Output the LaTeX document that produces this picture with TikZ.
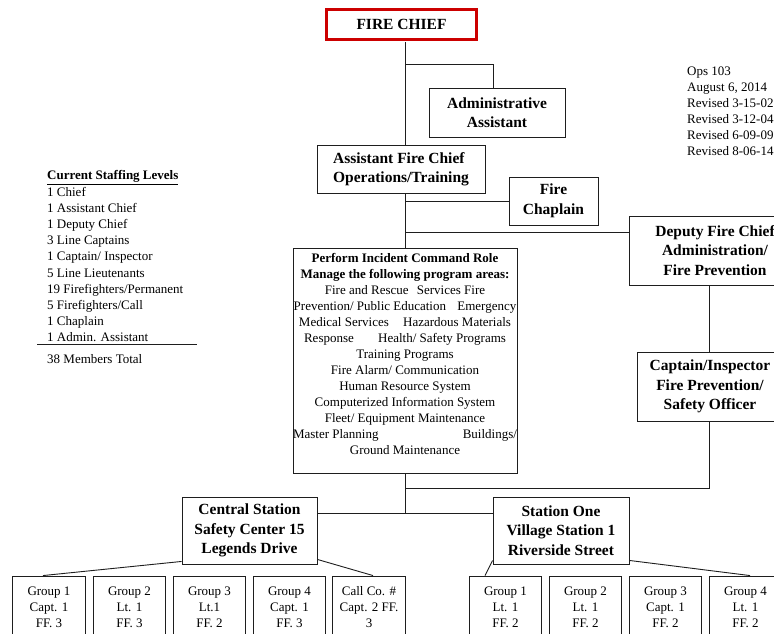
\documentclass[tikz,border=0pt]{standalone}
\usepackage{fontspec}
\setmainfont{Liberation Serif}
\definecolor{chiefred}{RGB}{204,0,0}
\definecolor{ink}{RGB}{30,30,30}
\tikzset{
 ln/.style={line width=0.9pt, draw=ink},
 box/.style={draw=ink, line width=0.9pt, fill=white, align=center, inner sep=0pt,
   font=\fontsize{15.5}{19.5}\selectfont\bfseries},
 grp/.style={draw=ink, line width=0.9pt, fill=white, align=center, inner sep=0pt,
   minimum width=72.5pt, minimum height=62pt, font=\fontsize{13}{16}\selectfont},
 txt/.style={inner sep=0pt, align=left, font=\fontsize{13}{16.1}\selectfont},
}
\begin{document}
\begin{tikzpicture}[x=1pt,y=-1pt]
\useasboundingbox (0,0) rectangle (774,633);
\clip (0,0) rectangle (774,633);
\fill[white] (0,0) rectangle (774,633);

% boxes
\node[box, draw=chiefred, line width=2.6pt, minimum width=150pt, minimum height=30pt] (chief) at (401.5,24.5) {FIRE CHIEF};
\node[box, minimum width=136pt, minimum height=49pt] (admin) at (497,112.5) {Administrative\\Assistant};
\node[box, align=left, minimum width=168pt, minimum height=48pt] (afc) at (401,169) {Assistant Fire Chief\\Operations/Training};
\node[box, minimum width=89pt, minimum height=48pt] (chap) at (553.5,201) {Fire\\Chaplain};
\node[box, minimum width=172pt, minimum height=69pt] (deputy) at (715,250.5) {Deputy Fire Chief\\Administration/\\Fire Prevention};
\node[box, minimum width=146pt, minimum height=69pt] (capt) at (710,386.5) {Captain/Inspector\\Fire Prevention/\\Safety Officer};
\node[box, minimum width=224pt, minimum height=225pt] (perform) at (405,360.5) {};
\node[anchor=north, inner sep=0pt, align=center, font=\fontsize{13}{16}\selectfont] (perftext) at (405,253.6) {%
\textbf{Perform Incident Command Role}\\
\textbf{Manage the following program areas:}\\
Fire and Rescue\hspace{5pt} Services Fire\\
Prevention/ Public Education\hspace{8pt} Emergency\\
Medical Services\hspace{11pt} Hazardous Materials\\
Response\hspace{21pt} Health/ Safety Programs\\
Training Programs\\
Fire Alarm/ Communication\\
Human Resource System\\
Computerized Information System\\
Fleet/ Equipment Maintenance\\
\makebox[224pt]{Master Planning\hfill Buildings/}\\
Ground Maintenance};
\node[box, minimum width=135pt, minimum height=67pt] (central) at (249.5,530.5) {Central Station\\Safety Center 15\\Legends Drive};
\node[box, minimum width=136pt, minimum height=67pt] (station) at (561,530.5) {Station One\\Village Station 1\\Riverside Street};

\node[grp] (cg1) at (49,607) {Group 1\\Capt. 1\\FF. 3};
\node[grp] (cg2) at (129.5,607) {Group 2\\Lt. 1\\FF. 3};
\node[grp] (cg3) at (209.5,607) {Group 3\\Lt.1\\FF. 2};
\node[grp] (cg4) at (289.5,607) {Group 4\\Capt. 1\\FF. 3};
\node[grp] (call) at (369,607) {Call Co. \#\\Capt. 2 FF.\\3};
\node[grp] (sg1) at (505.5,607) {Group 1\\Lt. 1\\FF. 2};
\node[grp] (sg2) at (585.5,607) {Group 2\\Lt. 1\\FF. 2};
\node[grp] (sg3) at (665.5,607) {Group 3\\Capt. 1\\FF. 2};
\node[grp] (sg4) at (745.5,607) {Group 4\\Lt. 1\\FF. 2};

% connectors
\coordinate (sp) at (405,0);
\coordinate (j1) at (405,64);
\coordinate (a1) at (493,64);
\coordinate (j2) at (405,201);
\coordinate (j3) at (405,232);
\coordinate (dx) at (709,0);
\coordinate (j4) at (405,488);
\coordinate (j5) at (405,513);

\draw[ln] ([yshift=-1.3pt]chief.south -| sp) -- (afc.north -| sp);
\draw[ln] (j1) -- (a1) -- (a1 |- admin.north);
\draw[ln] (afc.south -| sp) -- (perform.north -| sp);
\draw[ln] (j2) -- (j2 -| chap.west);
\draw[ln] (j3) -- (j3 -| deputy.west);
\draw[ln] (deputy.south -| dx) -- (capt.north -| dx);
\draw[ln] (capt.south -| dx) |- (j4);
\draw[ln] (perform.south -| sp) -- (j5);
\draw[ln] (j5 -| central.east) -- (j5 -| station.west);
\draw[ln] ([yshift=3pt]central.south west) -- ([xshift=-6pt]cg1.north);
\draw[ln] ([yshift=5pt]central.south east) -- ([xshift=4pt]call.north);
\draw[ln] ([yshift=4pt]station.south west) -- ([xshift=-20.5pt]sg1.north);
\draw[ln] ([yshift=4pt]station.south east) -- ([xshift=4.5pt]sg4.north);

% staffing levels
\node[txt, anchor=north west, font=\fontsize{13}{16}\selectfont\bfseries] (stafft) at (47,170.4) {\underline{Current Staffing Levels}};
\node[txt, anchor=north west] (staffl) at (47,187.2) {1 Chief\\1 Assistant Chief\\1 Deputy Chief\\3 Line Captains\\1 Captain/ Inspector\\5 Line Lieutenants\\19 Firefighters/Permanent\\5 Firefighters/Call\\1 Chaplain\\1 Admin. Assistant};
\draw[ln] (37,344) -- (197,344);
\node[txt, anchor=north west] (total) at (47,354.5) {38 Members Total};

% notes
\node[txt, anchor=north west, font=\fontsize{13}{16}\selectfont] (notes) at (687,66.6) {Ops 103\\August 6, 2014\\Revised 3-15-02\\Revised 3-12-04\\Revised 6-09-09\\Revised 8-06-14};
\end{tikzpicture}
\end{document}
